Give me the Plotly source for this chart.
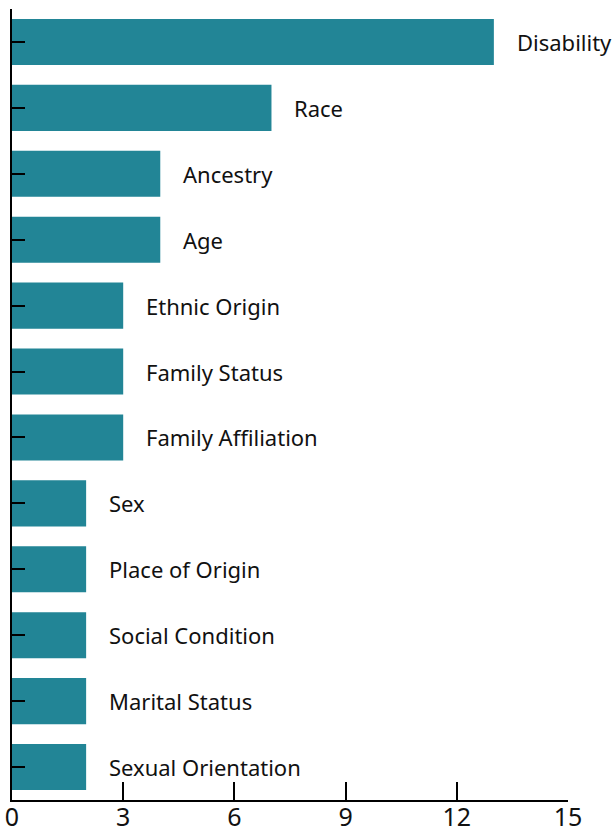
import plotly.graph_objects as go

categories = ["Disability", "Race", "Ancestry", "Age", "Ethnic Origin", "Family Status",
              "Family Affiliation", "Sex", "Place of Origin", "Social Condition",
              "Marital Status", "Sexual Orientation"]
values = [13, 7, 4, 4, 3, 3, 3, 2, 2, 2, 2, 2]
x_ticks = [0, 3, 6, 9, 12, 15]

bar_color = "#228596"
font_family = "'Noto Sans', 'Source Sans Pro', sans-serif"

fig = go.Figure(go.Bar(
    x=values, y=categories, orientation="h",
    marker=dict(color=bar_color, line=dict(width=0)),
    hoverinfo="x+y",
))

annotations = [
    dict(x=v, y=c, text=c, xref="x", yref="y", xanchor="left", yanchor="middle",
         xshift=21, showarrow=False, font=dict(size=22, color="#111111", family=font_family))
    for c, v in zip(categories, values)
]

fig.update_layout(
    width=614, height=827,
    margin=dict(l=12, r=46, t=9, b=27, autoexpand=False),
    paper_bgcolor="white", plot_bgcolor="white",
    bargap=0.3,
    showlegend=False,
    annotations=annotations,
    font=dict(family=font_family, color="#111111"),
)
fig.update_xaxes(
    range=[0, 15], tickvals=x_ticks, ticktext=[str(t) for t in x_ticks],
    showgrid=False, zeroline=False, automargin=False,
    showline=True, linecolor="black", linewidth=2,
    ticks="inside", ticklen=18, tickwidth=2, tickcolor="black",
    ticklabelstandoff=-6,
    tickfont=dict(size=25, color="#111111", family=font_family),
)
fig.update_yaxes(
    categoryorder="array", categoryarray=categories, autorange=False,
    range=[len(categories) - 0.5, -0.5], automargin=False,
    showticklabels=False, showgrid=False, zeroline=False,
    showline=True, linecolor="black", linewidth=2,
    ticks="inside", ticklen=13, tickwidth=2, tickcolor="black",
)

fig.write_html("out.html", config={"displayModeBar": False},
               post_script="document.body.style.margin='0';")
